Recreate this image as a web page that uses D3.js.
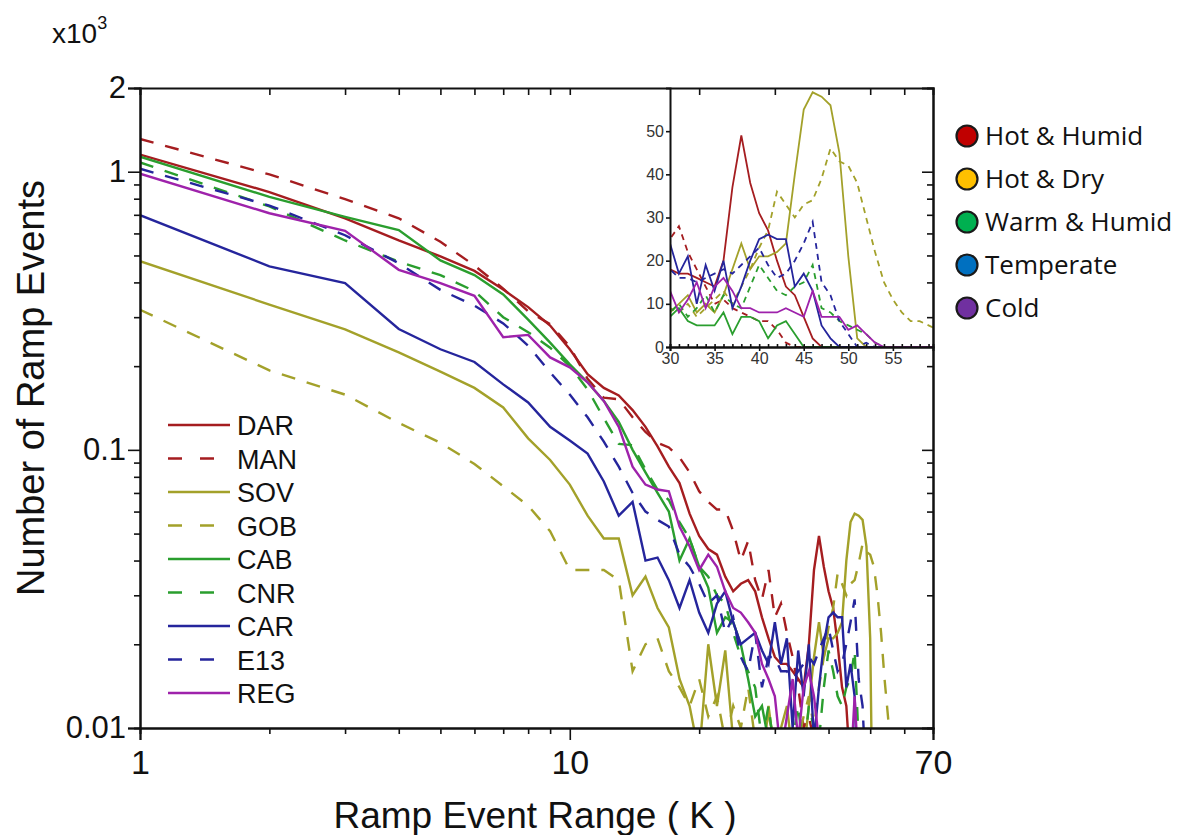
<!DOCTYPE html>
<html>
<head>
<meta charset="utf-8">
<script src="https://cdn.jsdelivr.net/npm/d3@7/dist/d3.min.js"></script>
<style>
  body { margin: 0; background: #fff; }
  svg { display: block; }
</style>
</head>
<body>
<div id="chart"></div>
<script>
// ramp event range (K), one point per integer step
const rangesK = [1,2,3,4,5,6,7,8,9,10,11,12,13,14,15,16,17,18,19,20,
  21,22,23,24,25,26,27,28,29,30,31,32,33,34,35,36,37,38,39,40,
  41,42,43,44,45,46,47,48,49,50,51,52,53,54,55,56,57,58,59,60];

// number of ramp events (counts) per station
const DAR = [1153,845,679,566,496,440,377,326,280,230, 187,167,157,139,121,103,87,76,59,49,
  44,42,35,31,33,34,31,25,21,18, 17,17,16,15,14,20,37,49,38,31,
  27,20,14,12,7,2,0,0,0,0, 0,0,0,0,0,0,0,0,0,0];
const MAN = [1312,978,797,680,560,460,380,315,283,235, 180,154,152,131,116,106,102,94,83,71,
  65,61,61,51,40,47,34,29,37,25, 28,22,18,14,10,11,9,8,7,6,
  6,4,1,0,0,0,0,0,0,0, 0,0,0,0,0,0,0,0,0,0];
const SOV = [477,333,271,224,191,167,142,110,92,75, 58,48,48,30,35,27,23,15,12,8,
  20,12,19,9,5,8,4,7,12,8, 10,12,8,10,8,12,18,24,18,21,
  21,22,24,40,55,59,58,56,45,21, 2,0,0,0,0,0,0,0,0,0];
const GOB = [319,193,158,125,106,89,74,63,51,37, 37,37,34,16,20,21,16,14,12,15,
  11,13,9,12,10,14,9,8,11,9, 8,10,7,9,11,13,10,14,18,23,
  27,36,33,30,33,34,39,46,43,42, 38,30,22,15,11,8,6,6,5,4];
const CAB = [1133,812,688,617,480,425,362,294,243,203, 175,150,126,100,83,70,60,40,48,38,
  32,22,25,24,20,15,11,12,9,7, 9,6,5,5,5,8,3,7,7,6,
  2,5,6,3,0,0,0,0,0,0, 0,0,0,0,0,0,0,0,0,0];
const CNR = [1080,750,566,475,425,372,300,265,233,200, 165,130,105,104,85,72,66,55,48,38,
  35,30,28,22,18,16,14,9,12,8, 10,7,9,12,8,12,10,9,14,19,
  16,13,12,14,15,19,9,8,6,5, 4,3,1,0,0,0,0,0,0,0];
const CAR = [698,457,398,272,230,207,172,148,121,108, 97,77,58,65,40,41,34,27,34,26,
  22,28,31,24,20,21,22,19,17,24, 17,21,10,19,13,20,9,14,20,25,
  26,25,25,14,17,13,5,2,0,0, 0,0,0,0,0,0,0,0,0,0];
const E13 = [1025,756,591,469,376,330,285,237,190,158, 131,107,87,70,60,56,53,42,38,33,
  28,30,22,25,18,16,22,14,18,18, 16,16,15,16,17,18,17,19,21,23,
  19,16,17,20,24,29,15,12,6,3, 0,1,0,0,0,0,0,0,0,0];
const REG = [984,709,613,444,398,358,254,259,215,198, 175,150,121,87,75,72,71,53,45,37,
  42,38,31,27,26,24,22,17,15,13, 8,11,15,9,14,16,13,9,9,8,
  8,8,9,8,7,13,7,7,7,4, 5,3,1,0,0,0,0,0,0,0];

const stationNames = ["DAR","MAN","SOV","GOB","CAB","CNR","CAR","E13","REG"];
const climateNames = ["Hot & Humid","Hot & Dry","Warm & Humid","Temperate","Cold"];

const xTickLabels = [1, 10, 70];
const yTickLabels = [0.01, 0.1, 1, 2];
const insetXTicks = [30, 35, 40, 45, 50, 55];
const insetYTicks = [0, 10, 20, 30, 40, 50];

// styling per station
const red = "#a51d20", olive = "#a3a12a", green = "#2a9e2e", navy = "#25259c", purple = "#9e22ab";
const series = [
  { name: "DAR", values: DAR, color: red, dashed: false },
  { name: "MAN", values: MAN, color: red, dashed: true },
  { name: "SOV", values: SOV, color: olive, dashed: false },
  { name: "GOB", values: GOB, color: olive, dashed: true },
  { name: "CAB", values: CAB, color: green, dashed: false },
  { name: "CNR", values: CNR, color: green, dashed: true },
  { name: "CAR", values: CAR, color: navy, dashed: false },
  { name: "E13", values: E13, color: navy, dashed: true },
  { name: "REG", values: REG, color: purple, dashed: false }
];
const climateColors = ["#c00000", "#ffc000", "#00b050", "#0070c0", "#7030a0"];

const font = "'Liberation Sans', Arial, sans-serif";
const plot = { left: 140, right: 933, top: 88, bottom: 728 };
const inset = { left: 670, right: 933, top: 88, bottom: 347 };

const svg = d3.select("#chart")
  .append("svg")
  .attr("width", 1201)
  .attr("height", 835);

const x = d3.scaleLog().domain([1, 70]).range([plot.left, plot.right]);
const y = d3.scaleLog().domain([0.01, 2]).range([plot.bottom, plot.top]);

const defs = svg.append("defs");
defs.append("clipPath").attr("id", "clipMain")
  .append("rect")
  .attr("x", plot.left).attr("y", plot.top)
  .attr("width", plot.right - plot.left).attr("height", plot.bottom - plot.top);
defs.append("clipPath").attr("id", "clipInset")
  .append("rect")
  .attr("x", inset.left).attr("y", inset.top)
  .attr("width", inset.right - inset.left).attr("height", inset.bottom - inset.top);

// main lines (values in thousands on the axis)
const line = d3.line()
  .x((d, i) => x(rangesK[i]))
  .y((d) => y(d > 0 ? d / 1000 : 0.001));

const gLines = svg.append("g").attr("clip-path", "url(#clipMain)");
series.forEach((s) => {
  gLines.append("path")
    .datum(s.values)
    .attr("fill", "none")
    .attr("stroke", s.color)
    .attr("stroke-width", 2.4)
    .attr("stroke-dasharray", s.dashed ? "14,12" : null)
    .attr("d", line);
});

// main axes
function styleAxis(g) {
  g.select(".domain").attr("stroke", "#111").attr("stroke-width", 2);
  g.selectAll(".tick line").attr("stroke", "#111").attr("stroke-width", 1.6);
  g.selectAll("text").attr("fill", "#111").style("font-family", font);
}

const xMinor = [2,3,4,5,6,7,8,9,20,30,40,50,60];
const yMinor = [0.02,0.03,0.04,0.05,0.06,0.07,0.08,0.09,0.2,0.3,0.4,0.5,0.6,0.7,0.8,0.9];

svg.append("g")
  .attr("transform", `translate(0,${plot.bottom})`)
  .call(d3.axisBottom(x).tickValues(xMinor).tickSize(6).tickFormat(""))
  .call(styleAxis);
svg.append("g")
  .attr("transform", `translate(0,${plot.bottom})`)
  .call(d3.axisBottom(x).tickValues(xTickLabels).tickSize(12).tickPadding(10).tickFormat(d3.format("d")))
  .call(styleAxis)
  .call((g) => g.selectAll("text").style("font-size", "34px"));

svg.append("g")
  .attr("transform", `translate(${plot.left},0)`)
  .call(d3.axisLeft(y).tickValues(yMinor).tickSize(6).tickFormat(""))
  .call(styleAxis);
svg.append("g")
  .attr("transform", `translate(${plot.left},0)`)
  .call(d3.axisLeft(y).tickValues(yTickLabels).tickSize(12).tickPadding(2).tickFormat((d) => String(d)))
  .call(styleAxis)
  .call((g) => g.selectAll("text").style("font-size", "31px"));

// inset panel
const xi = d3.scaleLinear().domain([30, 59.5]).range([inset.left, inset.right]);
const yi = d3.scaleLinear().domain([0, 60]).range([inset.bottom, inset.top]);

svg.append("rect")
  .attr("x", inset.left).attr("y", inset.top)
  .attr("width", inset.right - inset.left).attr("height", inset.bottom - inset.top)
  .attr("fill", "#fff");

const insetLine = d3.line()
  .x((d) => xi(d.k))
  .y((d) => yi(d.v));

const gInset = svg.append("g").attr("clip-path", "url(#clipInset)");
series.forEach((s) => {
  const pts = s.values.map((v, i) => ({ k: rangesK[i], v: v })).filter((d) => d.k >= 29);
  gInset.append("path")
    .datum(pts)
    .attr("fill", "none")
    .attr("stroke", s.color)
    .attr("stroke-width", 1.8)
    .attr("stroke-dasharray", s.dashed ? "6,5" : null)
    .attr("d", insetLine);
});

const insetMinor = d3.range(30, 60, 1);
svg.append("g")
  .attr("transform", `translate(0,${inset.bottom})`)
  .call(d3.axisBottom(xi).tickValues(insetMinor).tickSize(-3).tickFormat(""))
  .call(styleAxis);
svg.append("g")
  .attr("transform", `translate(0,${inset.bottom})`)
  .call(d3.axisBottom(xi).tickValues(insetXTicks).tickSize(4).tickPadding(2).tickFormat(d3.format("d")))
  .call(styleAxis)
  .call((g) => g.selectAll("text").style("font-size", "16px").attr("fill", "#333"));
svg.append("g")
  .attr("transform", `translate(${inset.left},0)`)
  .call(d3.axisLeft(yi).tickValues(insetYTicks).tickSize(4).tickPadding(2).tickFormat(d3.format("d")))
  .call(styleAxis)
  .call((g) => g.selectAll("text").style("font-size", "16px").attr("fill", "#333"));

// frame: top and right with inward ticks
svg.append("g")
  .attr("transform", `translate(0,${plot.top})`)
  .call(d3.axisBottom(x).tickValues(xMinor.concat([10])).tickSize(7).tickFormat(""))
  .call(styleAxis);
svg.append("g")
  .attr("transform", `translate(${plot.right},0)`)
  .call(d3.axisLeft(y).tickValues(yMinor).tickSize(6).tickFormat(""))
  .call(styleAxis);
svg.append("g")
  .attr("transform", `translate(${plot.right},0)`)
  .call(d3.axisLeft(y).tickValues([0.1, 1]).tickSize(11).tickFormat(""))
  .call(styleAxis);

// multiplier label
const mult = svg.append("text")
  .attr("x", 52).attr("y", 43)
  .style("font-family", font).style("font-size", "28px").attr("fill", "#111");
mult.append("tspan").text("x10");
mult.append("tspan").attr("dy", -14).style("font-size", "18px").text("3");

// axis titles
svg.append("text")
  .attr("transform", `translate(44,388) rotate(-90)`)
  .attr("text-anchor", "middle")
  .style("font-family", font).style("font-size", "38px").attr("fill", "#111")
  .text("Number of Ramp Events");
svg.append("text")
  .attr("x", 535).attr("y", 828)
  .attr("text-anchor", "middle")
  .style("font-family", font).style("font-size", "37px").attr("fill", "#111")
  .text("Ramp Event Range ( K )");

// station legend
const legend = svg.append("g");
series.forEach((s, i) => {
  const ly = 425 + i * 33.5;
  legend.append("line")
    .attr("x1", 168).attr("x2", 230).attr("y1", ly).attr("y2", ly)
    .attr("stroke", s.color).attr("stroke-width", 2.4)
    .attr("stroke-dasharray", s.dashed ? "14,18" : null);
  legend.append("text")
    .attr("x", 237).attr("y", ly + 10)
    .style("font-family", font).style("font-size", "27px").attr("fill", "#111")
    .text(stationNames[i]);
});

// climate legend
const cl = svg.append("g");
climateNames.forEach((c, i) => {
  const cy = 136 + i * 43;
  cl.append("circle")
    .attr("cx", 967).attr("cy", cy).attr("r", 10.5)
    .attr("fill", climateColors[i]).attr("stroke", "#1a1a1a").attr("stroke-width", 2.2);
  cl.append("text")
    .attr("x", 985).attr("y", cy + 9)
    .style("font-family", "'Open Sans', sans-serif").style("font-size", "26px").attr("fill", "#111")
    .text(c);
});
</script>
</body>
</html>
